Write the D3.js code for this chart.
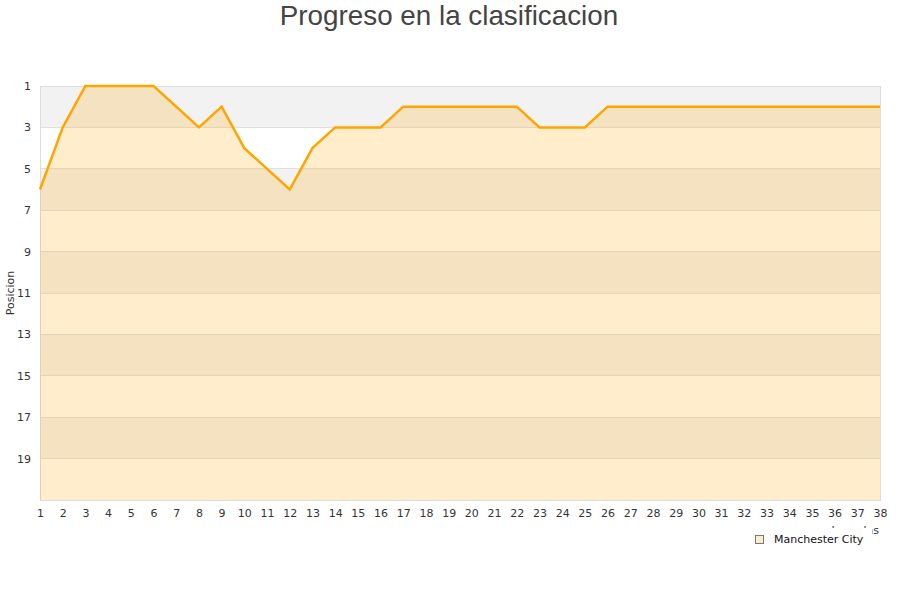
<!DOCTYPE html>
<html><head><meta charset="utf-8">
<script src="https://cdn.jsdelivr.net/npm/d3@7"></script>
<style>body{margin:0;background:#fff}svg{display:block}</style>
</head><body>
<svg id="c" width="900" height="600"></svg>
<script>
const rounds = d3.range(1, 39);
const positions = [6,3,1,1,1,1,2,3,2,4,5,6,4,3,3,3,2,2,2,2,2,2,3,3,3,2,2,2,2,2,2,2,2,2,2,2,2,2];
const yTicks = [1,3,5,7,9,11,13,15,17,19];
const bandStarts = [1,5,9,13,17];
const teamName = "Manchester City";
const titleText = "Progreso en la clasificacion";
const yTitle = "Posicion";
const xTitle = "Jornadas";

const svg = d3.select("#c");
const L = 40, R = 880, T = 86, B = 500;
const x = d3.scaleLinear().domain([1, 38]).range([L, R]);
const y = d3.scaleLinear().domain([1, 21]).range([T, B]);

svg.append("text").attr("x", 449).attr("y", 25).attr("text-anchor", "middle")
  .attr("font-family", "Liberation Sans, Arial, sans-serif").attr("font-size", 27.8)
  .attr("fill", "#444").text(titleText);

// bands
svg.append("g").selectAll("rect").data(bandStarts).join("rect")
  .attr("x", L).attr("width", R - L)
  .attr("y", d => y(d)).attr("height", d => y(d + 2) - y(d))
  .attr("fill", "#f2f2f2");

// grid lines
svg.append("g").selectAll("line").data(yTicks.slice(1)).join("line")
  .attr("x1", L).attr("x2", R).attr("y1", d => y(d)).attr("y2", d => y(d))
  .attr("stroke", "#e0e0e0").attr("stroke-width", 1).attr("shape-rendering", "crispEdges");

// frame
svg.append("rect").attr("x", L).attr("y", T).attr("width", R - L).attr("height", B - T)
  .attr("fill", "none").attr("stroke", "#dddddd").attr("shape-rendering", "crispEdges");

const data = rounds.map((r, i) => ({r, p: positions[i]}));
svg.append("path").datum(data)
  .attr("d", d3.area().x(d => x(d.r)).y0(B).y1(d => y(d.p)))
  .attr("fill", "#FFA500").attr("fill-opacity", 0.2);
svg.append("path").datum(data)
  .attr("d", d3.line().x(d => x(d.r)).y(d => y(d.p)))
  .attr("fill", "none").attr("stroke", "#FFA500").attr("stroke-width", 2.5);

// y axis labels
const yAx = svg.append("g").attr("transform", `translate(${L},0)`)
  .call(d3.axisLeft(y).tickValues(yTicks).tickSize(0).tickPadding(9));
yAx.select(".domain").remove();
yAx.selectAll("text").attr("font-family", "DejaVu Sans, sans-serif").attr("font-size", 11).attr("fill", "#333");

// x axis labels
const xAx = svg.append("g").attr("transform", `translate(0,${B})`)
  .call(d3.axisBottom(x).tickValues(rounds).tickSize(0).tickPadding(9).tickFormat(d3.format("d")));
xAx.select(".domain").remove();
xAx.selectAll("text").attr("font-family", "DejaVu Sans, sans-serif").attr("font-size", 11).attr("fill", "#333");

svg.append("text").attr("transform", "translate(14,293) rotate(-90)").attr("text-anchor", "middle")
  .attr("font-family", "DejaVu Sans, sans-serif").attr("font-size", 11).attr("fill", "#333").text(yTitle);

svg.append("text").attr("x", 879).attr("y", 534).attr("text-anchor", "end")
  .attr("font-family", "DejaVu Sans, sans-serif").attr("font-size", 11).attr("fill", "#333").text(xTitle);

// legend
const lg = svg.append("g");
lg.append("rect").attr("x", 748).attr("y", 528).attr("width", 124).attr("height", 22).attr("fill", "#fff");
lg.append("rect").attr("x", 755.5).attr("y", 535.5).attr("width", 8).attr("height", 8)
  .attr("fill", "#ffecc9").attr("stroke", "#777").attr("stroke-width", 1);
lg.append("text").attr("x", 774).attr("y", 543).attr("font-family", "DejaVu Sans, sans-serif")
  .attr("font-size", 11).attr("fill", "#111").text(teamName);
</script>
</body></html>
